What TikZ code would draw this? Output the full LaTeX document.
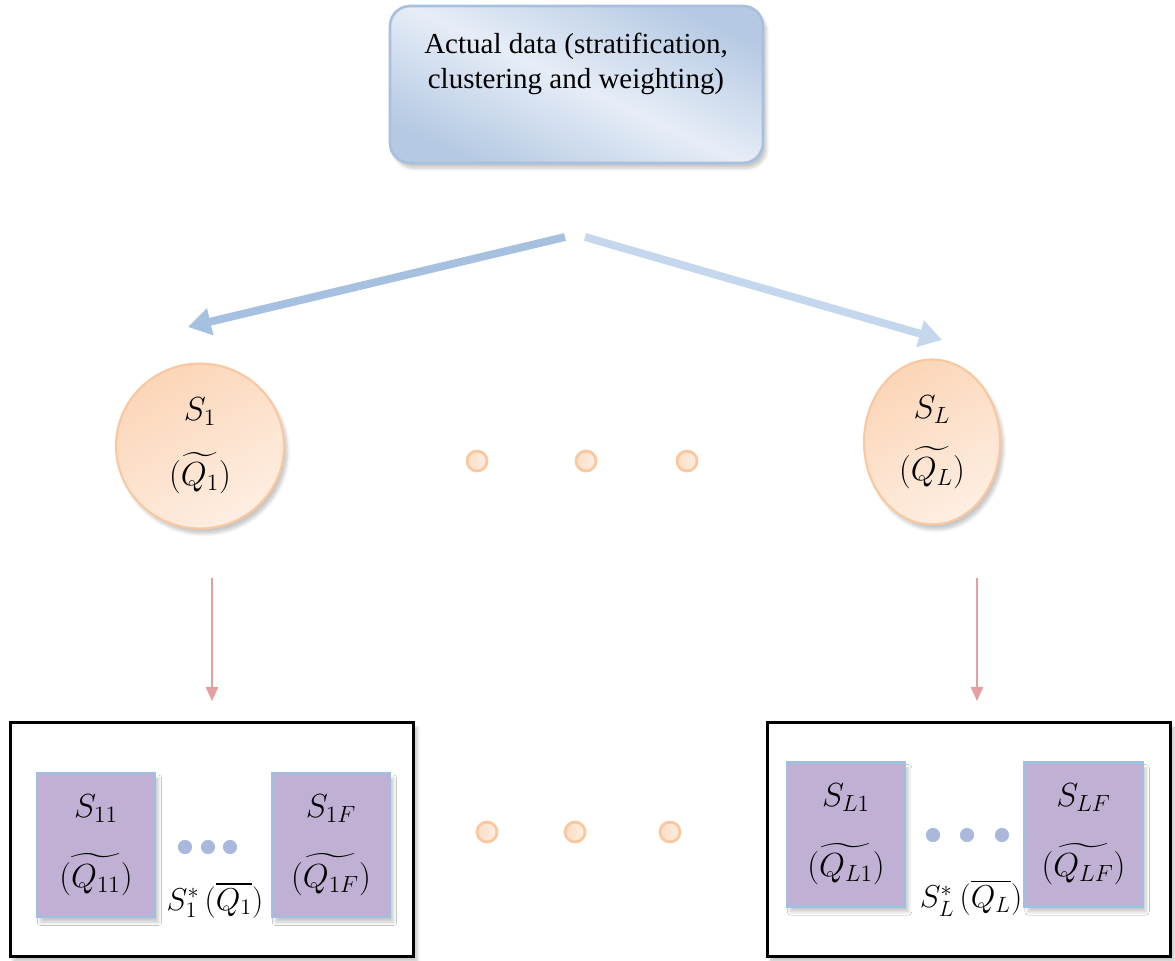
\RequirePackage{fix-cm}
\documentclass[tikz,border=0pt]{standalone}
\usepackage{amsmath,amssymb}
\usepackage{fontspec}
\setmainfont{Liberation Serif}
\usepackage{tikz}
\usetikzlibrary{arrows.meta, positioning, shapes.geometric, shadows.blur, calc}
\definecolor{topblue}{RGB}{168,192,222}
\definecolor{paleblue}{RGB}{230,237,247}
\definecolor{arrowblue}{RGB}{166,192,224}
\definecolor{lightarrow}{RGB}{197,215,236}
\definecolor{peach}{RGB}{250,200,160}
\definecolor{palepeach}{RGB}{254,238,226}
\definecolor{rosy}{RGB}{228,160,160}
\definecolor{lilac}{RGB}{192,177,212}
\definecolor{edgeblue}{RGB}{160,192,226}
\definecolor{dotblue}{RGB}{164,186,222}

\tikzset{
  softshadow/.style={blur shadow={shadow xshift=2pt, shadow yshift=-3pt,
      shadow opacity=22, shadow blur steps=6}},
  topbox/.style={rounded corners=0.4cm, draw=topblue, line width=1.5pt,
      top color=topblue!85, bottom color=topblue!85, middle color=paleblue,
      shading angle=-25, minimum width=7.46cm, minimum height=3.14cm, softshadow},
  toptext/.style={align=center, font=\fontsize{16.5}{19.5}\selectfont},
  stratum/.style={ellipse, draw=peach, line width=1.2pt, align=center,
      left color=peach!75, right color=palepeach, shading angle=30,
      font=\fontsize{19}{23}\selectfont, softshadow},
  odot/.style={circle, draw=peach, line width=1.6pt, inner sep=0pt,
      minimum size=0.4cm, left color=peach!60, right color=palepeach},
  bdot/.style={circle, draw=dotblue, line width=1.2pt, fill=dotblue!70!lilac,
      inner sep=0pt, minimum size=0.24cm},
  frame/.style={draw=black, line width=1.7pt, minimum width=8.08cm,
      minimum height=4.68cm, fill=white, softshadow},
  substr/.style={draw=edgeblue, line width=1.3pt, fill=lilac, align=center,
      minimum width=2.36cm, minimum height=2.88cm,
      font=\fontsize{19}{23}\selectfont, softshadow},
  mathlbl/.style={font=\fontsize{18}{22}\selectfont},
  bigarrow/.style={line width=4.5pt, -{Triangle[length=13pt, width=15pt]}},
  thinarrow/.style={rosy, line width=1.2pt, -{Triangle[length=8pt, width=7pt]}}
}

\begin{document}
\begin{tikzpicture}[x=0.02cm, y=-0.02cm]
  \useasboundingbox (0,0) rectangle (1175,960);

  % top box
  \node[topbox] (top) at (576.5,84.5) {};
  \node[toptext] (toptxt) at (576,64)
    {Actual data (stratification,\\clustering and weighting)};

  % split arrows
  \coordinate (spl) at (565,237);
  \coordinate (spr) at (585,237);
  \coordinate (tipl) at (188,327);
  \coordinate (tipr) at (942,340);
  \draw[bigarrow, arrowblue] (spl) -- (tipl);
  \draw[bigarrow, lightarrow] (spr) -- (tipr);

  % strata
  \node[stratum, minimum width=3.36cm, minimum height=3.3cm] (s1) at (200,446)
    {$S_1$\\[14pt]$(\widetilde{Q_1})$};
  \node[stratum, minimum width=2.72cm, minimum height=3.3cm] (sL) at (932,442)
    {$S_L$\\[12pt]$(\widetilde{Q_L})$};
  \foreach \x [count=\i] in {477,586,687}
    \node[odot] (mid\i) at (\x,461) {};

  % cluster frames
  \node[frame] (f1) at (212,839.5) {};
  \node[frame] (fL) at (969,839.5) {};
  \draw[thinarrow, shorten <=0.97cm, shorten >=0.4cm]
    (f1.north |- s1.south) -- (f1.north);
  \draw[thinarrow, shorten <=1.05cm, shorten >=0.4cm]
    ([xshift=0.16cm]fL.north |- sL.south) -- ([xshift=0.16cm]fL.north);
  \foreach \x [count=\i] in {487,575,670}
    \node[odot] (low\i) at (\x,832) {};

  % left frame
  \node[substr] (s11) at (96,845) {$S_{11}$\\[17pt]$(\widetilde{Q_{11}})$};
  \node[substr] (s1F) at (331,845) {$S_{1F}$\\[17pt]$(\widetilde{Q_{1F}})$};
  \foreach \x [count=\i] in {185,208,230}
    \node[bdot] (bl\i) at (\x,847) {};
  \node[mathlbl] (star1) at (215,900) {$S_1^*\,(\overline{Q_1})$};

  % right frame
  \node[substr] (sL1) at (846,834.5) {$S_{L1}$\\[17pt]$(\widetilde{Q_{L1}})$};
  \node[substr] (sLF) at (1083.5,834.5) {$S_{LF}$\\[17pt]$(\widetilde{Q_{LF}})$};
  \foreach \x [count=\i] in {933,967,1002}
    \node[bdot] (br\i) at (\x,835) {};
  \node[mathlbl] (starL) at (971,898) {$S_L^*\,(\overline{Q_L})$};
\end{tikzpicture}
\end{document}
